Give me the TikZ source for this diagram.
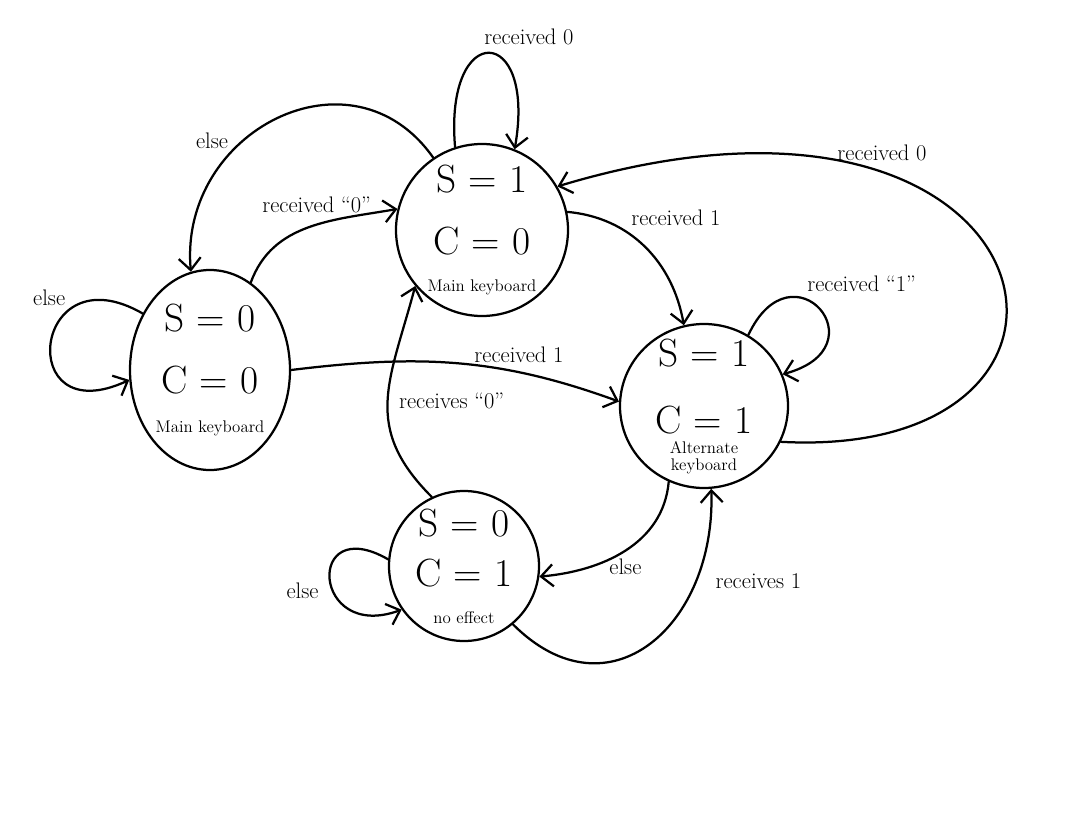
\documentclass[tikz,border=0pt]{standalone}
\usetikzlibrary{positioning,shapes.geometric,arrows.meta}
\newcommand{\stnote}[1]{{\fontsize{12}{13}\selectfont #1}}

\begin{document}
\begin{tikzpicture}[-{Straight Barb[length=3mm,width=5.5mm]}, line width=1.6pt,
                    line cap=round, line join=round,
                    node distance = 3cm and 3cm, on grid,
                    state/.style = {ellipse,
                                    draw,
                                    inner sep=0pt},
                    statetext/.style = {align=center,
                                        inner sep=0pt,
                                        font=\fontsize{28}{30}\selectfont},
                    trans/.style = {font=\fontsize{16}{19}\selectfont}]

\useasboundingbox (0,0) rectangle (27.125,-20.325);

\node[state, minimum width=4cm, minimum height=5cm,
      label={[statetext, name=A-text]center:S = 0\\[14pt]C = 0\\[-2pt]\stnote{Main keyboard}}]
      (A) at (5.25,-9.25) {};
\node[state, minimum size=4.3cm,
      label={[statetext, name=B-text]center:S = 1\\[14pt]C = 0\\[-4pt]\stnote{Main keyboard}}]
      (B) [above right = 3.5cm and 6.8cm of A] {};
\node[state, minimum width=4.2cm, minimum height=4.1cm,
      label={[statetext, name=D-text]center:S = 1\\[18pt]C = 1\\[-4pt]\stnote{\shortstack{Alternate\\keyboard}}}]
      (D) [below right = 4.4cm and 5.55cm of B] {};
\node[state, minimum size=3.75cm,
      label={[statetext, name=E-text]center:S = 0\\[6pt]C = 1\\[-4pt]\stnote{no effect}}]
      (E) [below left = 8.4cm and 0.45cm of B] {};

\path (A.140) edge [out=150, in=205, min distance=3.2cm, max distance=3.2cm]
      node[trans, pos=0.3, above left=-2pt] {else} (A.187);
\path (A.65) edge [out=70, in=190] node[trans, pos=0.55, above=4pt] {received ``0''} (B.166);
\path (B.124) edge [out=125, in=95, looseness=1.35] node[trans, pos=0.66, above left=-2pt] {else} (A.101);
\path (B.108) edge [out=95, in=80, min distance=3.2cm, max distance=3.2cm]
      node[trans, pos=0.5, above=2pt, xshift=1cm] {received 0} (B.68);
\path (B.12) edge [out=-5, in=100] node[trans, pos=0.35, above right=0pt] {received 1} (D.104);
\draw (D.-25) .. controls +(9.2,-0.5) and +(12.6,3.8) .. node[trans, pos=0.72, above=4pt] {received 0} (B.30);
\path (D.58) edge [out=65, in=15, min distance=2.6cm, max distance=2.6cm]
      node[trans, pos=0.35, above right=0pt] {received ``1''} (D.22);
\path (A.0) edge [out=7, in=160] node[trans, pos=0.7, above=3pt] {received 1} (D.177);
\path (E.115) edge [out=135, in=255, looseness=1.2] node[trans, pos=0.5, right=4pt] {receives ``0''} (B.220);
\path (D.245) edge [out=265, in=5] node[trans, pos=0.5, below=2pt] {else} (E.-8);
\path (E.-50) edge [out=-45, in=-88, looseness=1.45] node[trans, pos=0.75, right=10pt] {receives 1} (D.-85);
\path (E.175) edge [out=150, in=200, min distance=2.4cm, max distance=2.4cm]
      node[trans, pos=0.5, left=4pt, yshift=-0.3cm] {else} (E.215);

\end{tikzpicture}
\end{document}
